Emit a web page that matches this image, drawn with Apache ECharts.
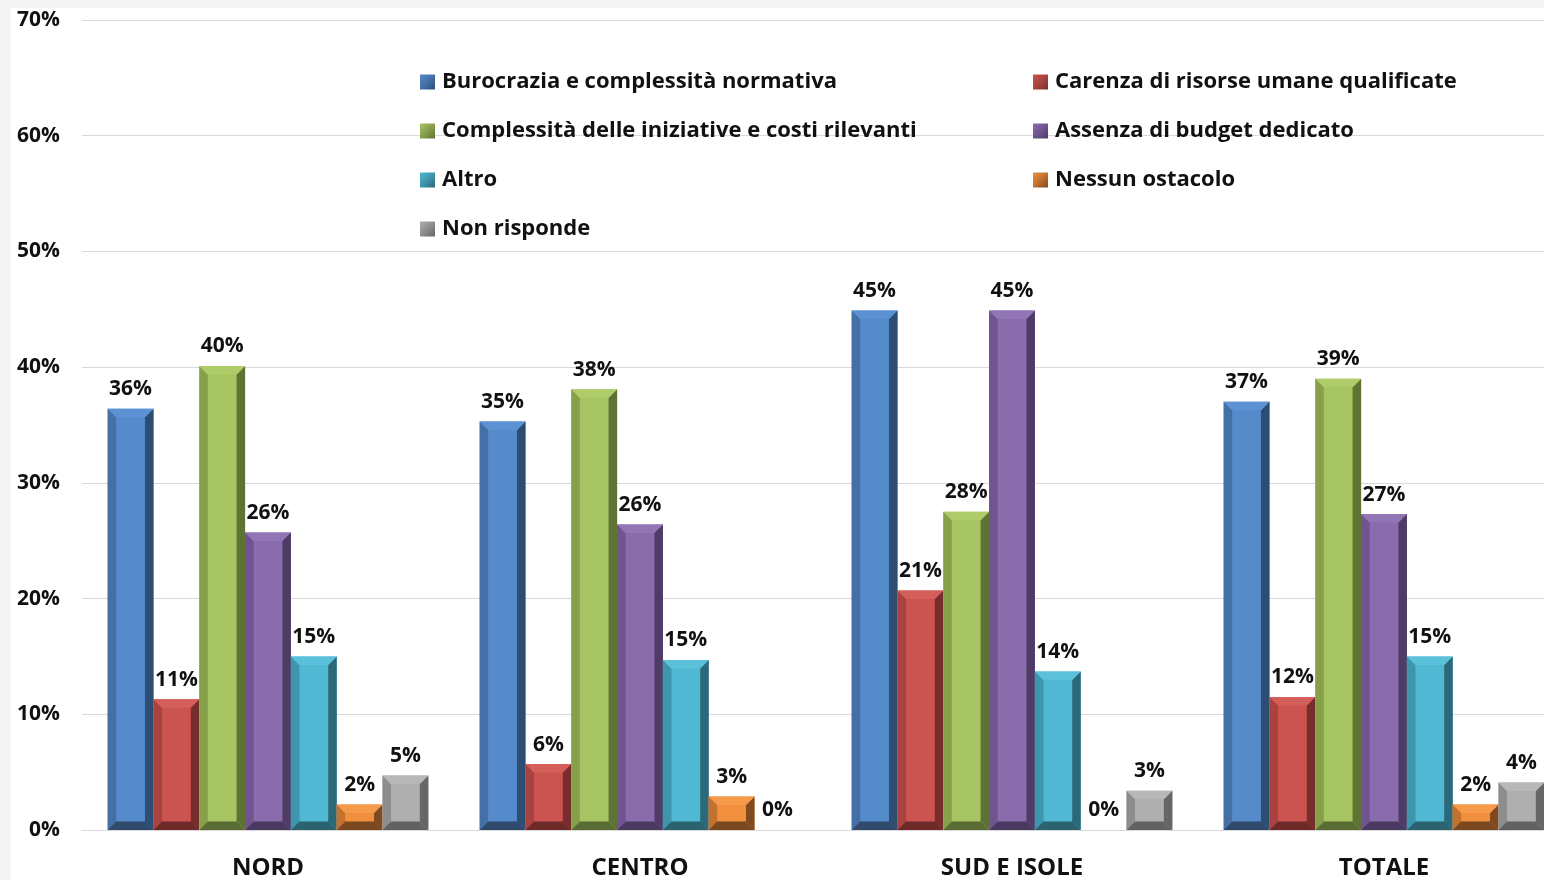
<!DOCTYPE html>
<html>
<head>
<meta charset="utf-8">
<script src="https://cdn.jsdelivr.net/npm/echarts@6/dist/echarts.min.js"></script>
<style>
html,body{margin:0;padding:0;background:#f4f4f4;width:1544px;height:880px;overflow:hidden;}
#chart{position:absolute;left:11px;top:8px;width:1600px;height:872px;background:#ffffff;}
</style>
</head>
<body>
<div id="chart"></div>
<script>
// ---- data ----
const categories = ['NORD', 'CENTRO', 'SUD E ISOLE', 'TOTALE'];
const seriesNames = [
  'Burocrazia e complessità normativa',
  'Carenza di risorse umane qualificate',
  'Complessità delle iniziative e costi rilevanti',
  'Assenza di budget dedicato',
  'Altro',
  'Nessun ostacolo',
  'Non risponde'
];
const burocrazia = [36.4, 35.3, 44.9, 37.0];
const carenza = [11.3, 5.7, 20.7, 11.5];
const complessita = [40.1, 38.1, 27.5, 39.0];
const assenza = [25.7, 26.4, 44.9, 27.3];
const altro = [15.0, 14.7, 13.7, 15.0];
const nessun = [2.2, 2.9, 0, 2.2];
const nonRisponde = [4.7, 0, 3.4, 4.1];
const yTicks = [0, 10, 20, 30, 40, 50, 60, 70];

const seriesValues = [burocrazia, carenza, complessita, assenza, altro, nessun, nonRisponde];

// colors: [main, left, right, top, bottom]
const palette = [
  ['#558ACB', '#4470A6', '#2E4D73', '#5C92D4', '#2F4A6C'],
  ['#CC5450', '#A84340', '#772D2C', '#D35E5A', '#6E2A29'],
  ['#A6C562', '#87A04A', '#5E7234', '#AECD6A', '#5A6B33'],
  ['#8A6CAD', '#6E558F', '#4E3B66', '#9275B4', '#4A3960'],
  ['#50B8D3', '#3E96AD', '#2B6878', '#5BC1DA', '#2A6270'],
  ['#F0903F', '#C2712F', '#7F4A1F', '#F59A4A', '#7A471E'],
  ['#AFAFAF', '#8D8D8D', '#666666', '#B8B8B8', '#626262']
];

const N = seriesNames.length;
const FONT = '"Open Sans", Lato, sans-serif';

function makeRender(sIdx) {
  return function (params, api) {
    const cat = api.value(0);
    const val = api.value(1);
    const base = api.coord([cat, 0]);
    const top = api.coord([cat, val]);
    const band = api.size([1, 0])[0];
    const groupW = band * 0.862;
    const bw = groupW / N;
    const x0 = base[0] - groupW / 2 + sIdx * bw;
    const x1 = x0 + bw;
    const yb = base[1];
    const yt = top[1];
    const h = yb - yt;
    const c = palette[sIdx];
    const children = [];
    if (h > 0.5) {
      const b = Math.min(8.5, h / 3);
      children.push({type: 'rect', shape: {x: x0, y: yt, width: bw, height: h}, style: {fill: c[0]}});
      children.push({type: 'polygon', shape: {points: [[x0, yt], [x0 + b, yt + b], [x0 + b, yb - b], [x0, yb]]}, style: {fill: c[1]}});
      children.push({type: 'polygon', shape: {points: [[x1, yt], [x1 - b, yt + b], [x1 - b, yb - b], [x1, yb]]}, style: {fill: c[2]}});
      children.push({type: 'polygon', shape: {points: [[x0, yt], [x1, yt], [x1 - b, yt + b], [x0 + b, yt + b]]}, style: {fill: c[3]}});
      children.push({type: 'polygon', shape: {points: [[x0, yb], [x0 + b, yb - b], [x1 - b, yb - b], [x1, yb]]}, style: {fill: c[4]}});
    }
    children.push({
      type: 'text',
      x: (x0 + x1) / 2,
      y: yt - 9,
      style: {
        text: Math.round(val) + '%',
        textAlign: 'center',
        textVerticalAlign: 'bottom',
        font: 'bold 21px ' + FONT,
        fill: '#111111'
      }
    });
    return {type: 'group', children: children};
  };
}

const series = seriesNames.map(function (name, i) {
  return {
    name: name,
    type: 'custom',
    renderItem: makeRender(i),
    itemStyle: {color: palette[i][1]},
    encode: {x: 0, y: 1},
    data: seriesValues[i].map(function (v, k) { return [k, v]; }),
    z: 3
  };
});

function legendItem(i) {
  return {
    name: seriesNames[i],
    itemStyle: {
      color: new echarts.graphic.LinearGradient(0, 0, 1, 1, [
        {offset: 0, color: palette[i][0]},
        {offset: 0.5, color: palette[i][1]},
        {offset: 1, color: palette[i][2]}
      ])
    }
  };
}

const legendCommon = {
  orient: 'vertical',
  icon: 'rect',
  itemWidth: 15,
  itemHeight: 15,
  itemGap: 25,
  padding: 0,
  selectedMode: false,
  textStyle: {fontFamily: FONT, fontWeight: 'bold', fontSize: 22, color: '#111111', lineHeight: 24, padding: [0, 0, 0, 2]}
};

const option = {
  animation: false,
  backgroundColor: '#ffffff',
  legend: [
    Object.assign({}, legendCommon, {left: 409, top: 62, data: [0, 2, 4, 6].map(legendItem)}),
    Object.assign({}, legendCommon, {left: 1022, top: 62, data: [1, 3, 5].map(legendItem)})
  ],
  grid: {left: 71, top: 12, width: 1488, height: 810},
  xAxis: {
    type: 'category',
    data: categories,
    axisTick: {show: false},
    axisLine: {show: true, lineStyle: {color: '#d9d9d9', width: 1}},
    axisLabel: {margin: 26, fontFamily: FONT, fontWeight: 'bold', fontSize: 24, color: '#111111'}
  },
  yAxis: {
    type: 'value',
    min: 0,
    max: 70,
    interval: 10,
    axisLine: {show: false},
    axisTick: {show: false},
    splitLine: {lineStyle: {color: '#d9d9d9', width: 1}},
    axisLabel: {
      margin: 22,
      fontFamily: FONT,
      fontWeight: 'bold',
      fontSize: 21,
      color: '#111111',
      formatter: function (v) { return yTicks.indexOf(v) >= 0 ? v + '%' : ''; }
    }
  },
  series: series
};

const chart = echarts.init(document.getElementById('chart'), null, {renderer: 'canvas'});
chart.setOption(option);
</script>
</body>
</html>
